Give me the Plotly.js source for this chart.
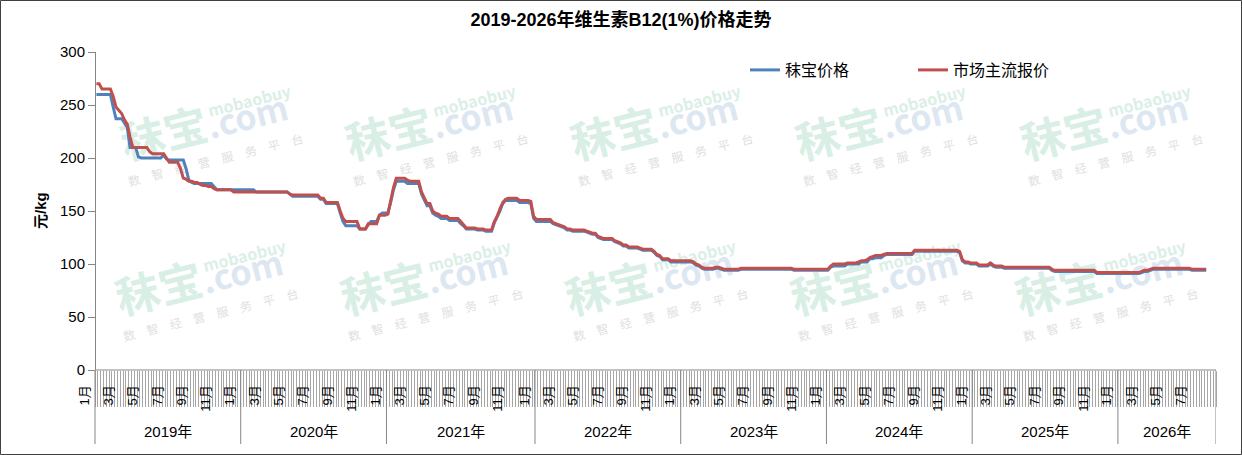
<!DOCTYPE html>
<html><head><meta charset="utf-8">
<script src="https://cdn.plot.ly/plotly-3.0.1.min.js"></script>
<style>html,body{margin:0;padding:0;background:#fff}#chart{width:1242px;height:455px}</style>
</head><body><div id="chart"></div>
<script>
// ---------------- data ----------------
const years = ['2019年','2020年','2021年','2022年','2023年','2024年','2025年','2026年'];
const weeksPerYear = [52,52,53,52,52,52,52,35];
const monthNumbers = [1,3,5,7,9,11];
const monthLabels = ['1月','3月','5月','7月','9月','11月'];
const seriesNames = ['秣宝价格','市场主流报价'];

// 秣宝价格 (weekly, 元/kg)
const mobaoPrice = [
  // 2019
  260,260,260,260,260,260,248,237,237,237,
  233,229,210,210,210,201,200,200,200,200,
  200,200,200,200,203,199,198,198,198,198,
  198,198,190,179,177,176,176,176,176,176,
  176,176,173,170,170,170,170,170,170,170,
  170,170,
  // 2020
  170,170,170,170,170,168,168,168,168,168,
  168,168,168,168,168,168,168,166,164,164,
  164,164,164,164,164,164,164,164,161,161,
  157,157,157,157,157,148,140,136,136,136,
  136,136,133,133,133,137,140,140,140,146,
  148,148,
  // 2021
  148,158,170,178,178,178,178,176,176,176,
  176,176,166,160,155,155,148,146,145,143,
  143,143,141,141,141,141,138,136,133,133,
  133,133,132,132,132,131,131,131,139,144,
  150,157,160,160,160,160,160,158,158,158,
  158,157,143,
  // 2022
  140,140,140,140,140,140,138,137,136,135,
  134,132,132,131,131,131,131,131,130,129,
  128,128,125,124,123,123,123,123,121,120,
  119,117,117,115,115,115,115,114,113,113,
  113,113,111,108,107,104,104,104,102,102,
  102,102,
  // 2023
  102,102,102,102,101,99,98,96,95,95,
  95,95,96,96,95,94,94,94,94,94,
  94,95,95,95,95,95,95,95,95,95,
  95,95,95,95,95,95,95,95,95,95,
  94,94,94,94,94,94,94,94,94,94,
  94,94,
  // 2024
  94,97,98,98,98,98,98,100,100,100,
  100,100,102,102,102,105,105,106,106,106,
  108,109,109,109,109,109,109,109,109,109,
  109,112,112,112,112,112,112,112,112,112,
  112,112,112,112,112,112,112,111,103,101,
  101,100,
  // 2025
  100,100,98,98,98,98,100,98,97,97,
  97,96,96,96,96,96,96,96,96,96,
  96,96,96,96,96,96,96,96,94,93,
  93,93,93,93,93,93,93,93,93,93,
  93,93,93,93,91,91,91,91,91,91,
  91,91,
  // 2026
  91,91,91,91,91,91,91,91,92,93,
  93,94,95,95,95,95,95,95,95,95,
  95,95,95,95,95,95,94,94,94,94,
  94,94
];

// 市场主流报价 (weekly, 元/kg)
const marketPrice = [
  // 2019
  270,270,265,265,265,265,258,248,245,242,
  236,232,220,210,210,210,210,210,210,206,
  204,204,204,204,204,200,196,196,196,196,
  190,181,180,178,178,177,177,175,174,174,
  173,173,171,170,170,170,170,170,170,168,
  168,168,
  // 2020
  168,168,168,168,168,168,168,168,168,168,
  168,168,168,168,168,168,168,166,165,165,
  165,165,165,165,165,165,165,165,162,162,
  158,158,158,158,158,150,143,140,140,140,
  140,140,133,133,133,138,138,138,138,146,
  146,146,
  // 2021
  147,160,172,181,181,181,181,179,178,178,
  178,178,168,162,157,157,150,148,147,145,
  145,145,143,143,143,143,140,137,134,134,
  134,134,133,133,133,132,132,132,140,145,
  152,158,161,162,162,162,162,160,160,160,
  160,159,145,
  // 2022
  142,142,142,142,142,142,139,138,137,136,
  135,133,133,132,132,132,132,132,131,130,
  129,129,126,125,124,124,124,124,122,121,
  120,118,118,116,116,116,116,115,114,114,
  114,114,112,109,108,105,105,105,103,103,
  103,103,
  // 2023
  103,103,103,103,102,100,99,97,96,96,
  96,96,97,97,96,95,95,95,95,95,
  95,96,96,96,96,96,96,96,96,96,
  96,96,96,96,96,96,96,96,96,96,
  95,95,95,95,95,95,95,95,95,95,
  95,95,
  // 2024
  95,98,100,100,100,100,100,101,101,101,
  101,102,103,103,104,106,107,108,108,108,
  109,110,110,110,110,110,110,110,110,110,
  110,113,113,113,113,113,113,113,113,113,
  113,113,113,113,113,113,113,112,104,102,
  102,101,
  // 2025
  101,101,99,99,99,99,101,99,98,98,
  98,97,97,97,97,97,97,97,97,97,
  97,97,97,97,97,97,97,97,95,94,
  94,94,94,94,94,94,94,94,94,94,
  94,94,94,94,92,92,92,92,92,92,
  92,92,
  // 2026
  92,92,92,92,92,92,92,92,93,94,
  94,95,96,96,96,96,96,96,96,96,
  96,96,96,96,96,96,95,95,95,95,
  95,95
];

// ---------------- layout helpers ----------------
const W = 1242, H = 455, PL = 95, PR = 1216, PT = 52, PB = 370;
const PW = PR;               // paper starts at pixel 0 (left margin 0)
const PHt = PB - PT;
const px2x = px => px / PW;
const py2y = py => (PB - py) / PHt;
const FONT = '"Liberation Sans", Arial, "Noto Sans CJK SC", sans-serif';
const CJK = '"Noto Sans CJK SC", "Liberation Sans", sans-serif';

const N = weeksPerYear.reduce((a, b) => a + b, 0);
const pxPerIdx = (PR - PL) / N;
const LBL_L = 60;
const xRange = [-0.5 - (PL - LBL_L) / pxPerIdx, N - 0.5];
const idx = Array.from({length: N}, (_, i) => i);
const pad = arr => arr.concat(Array(Math.max(0, N - arr.length)).fill(null));
const lastData = marketPrice.length - 1;

const yearStart = [];
weeksPerYear.reduce((acc, w) => { yearStart.push(acc); return acc + w; }, 0);

const WEEKS_FULL = 52.18, LABEL_SHIFT = 4.3;
const tickvals = [], ticktext = [];
years.forEach((y, k) => {
  monthNumbers.forEach((m, j) => {
    const start = yearStart[k] + (m - 1) / 12 * WEEKS_FULL;
    if (start <= lastData) { tickvals.push(start - LABEL_SHIFT); ticktext.push(monthLabels[j]); }
  });
});
const boundaries = Array.from({length: N + 1}, (_, i) => i - 0.5);

const shapes = [];
const annotations = [];

// x axis line
shapes.push({type: 'line', xref: 'x', yref: 'paper', x0: -0.5, x1: N - 0.5, y0: 0, y1: 0,
  line: {color: '#868686', width: 1}});
// year separators
for (let k = 0; k <= years.length; k++) {
  const xb = (k < years.length ? yearStart[k] : N) - 0.5;
  shapes.push({type: 'line', xref: 'x', yref: 'paper', x0: xb, x1: xb, y0: 0, y1: py2y(444),
    line: {color: '#868686', width: 1}});
}
// year labels
years.forEach((y, k) => {
  annotations.push({xref: 'x', yref: 'paper', x: yearStart[k] + weeksPerYear[k] / 2 - 0.5, y: py2y(431),
    text: y, showarrow: false, xanchor: 'center', yanchor: 'middle', font: {size: 15, color: '#000', family: FONT}});
});
// y-axis title
annotations.push({xref: 'paper', yref: 'paper', x: px2x(40), y: 0.5, text: '<b>元/kg</b>', textangle: -90,
  showarrow: false, xanchor: 'center', yanchor: 'middle', font: {size: 15, color: '#000', family: FONT}});

// chart border
shapes.push({type: 'rect', xref: 'paper', yref: 'paper', x0: px2x(0.5), x1: px2x(W - 0.5), y0: py2y(H - 0.5), y1: py2y(0.5),
  line: {color: '#404040', width: 1}, fillcolor: 'rgba(0,0,0,0)'});

// watermarks (drawn below the lines)
const wmRows = [128, 283];
const wmCols = [[205, 430, 655, 880, 1105], [200, 425, 650, 875, 1100]];
const WM_ANGLE = -14;
function wmLabel(cx, cy, text, size, color) {
  shapes.push({type: 'rect', xref: 'paper', yref: 'paper', x0: px2x(cx - 1), x1: px2x(cx + 1), y0: py2y(cy + 1), y1: py2y(cy - 1),
    line: {width: 0}, fillcolor: 'rgba(0,0,0,0)', layer: 'below',
    label: {text: text, textposition: 'middle center', textangle: WM_ANGLE, font: {size: size, color: color, family: CJK}}});
}
wmRows.forEach((cy, r) => {
  wmCols[r].forEach(cx => {
    wmLabel(cx, cy, '<b>秣宝<span style="font-size:34px;fill:#dde7f1">.com</span></b>', 44, '#d9efe6');
    wmLabel(cx + 45, cy - 25, '<b>mobaobuy</b>', 16, '#dbefe7');
    wmLabel(cx + 11, cy + 33, '数　智　经　营　服　务　平　台', 12, '#e0e0e0');
  });
});

const traces = [
  {x: idx, y: pad(mobaoPrice), type: 'scatter', mode: 'lines', name: seriesNames[0],
   line: {color: '#4F81BD', width: 3}, hoverinfo: 'skip'},
  {x: idx, y: pad(marketPrice), type: 'scatter', mode: 'lines', name: seriesNames[1],
   line: {color: '#C0504D', width: 3}, hoverinfo: 'skip'}
];

const layout = {
  width: W, height: H,
  margin: {l: 0, r: W - PR, t: PT, b: H - PB, pad: 0},
  paper_bgcolor: '#ffffff', plot_bgcolor: 'rgba(0,0,0,0)',
  font: {family: FONT, size: 15, color: '#000'},
  title: {text: '<b>2019-2026年维生素B12(1%)价格走势</b>', x: 0.5, xref: 'container', xanchor: 'center',
          y: 1 - 20 / H, yref: 'container', yanchor: 'middle', font: {size: 18, color: '#000', family: FONT}},
  showlegend: true,
  legend: {orientation: 'h', x: px2x(745), xanchor: 'left', y: py2y(70), yanchor: 'middle',
           font: {size: 16, color: '#000', family: FONT}, entrywidth: 123, entrywidthmode: 'pixels',
           bgcolor: 'rgba(0,0,0,0)', borderwidth: 0, traceorder: 'normal'},
  xaxis: {domain: [px2x(LBL_L), 1], range: xRange, showgrid: false, zeroline: false, showline: false,
          tickmode: 'array', tickvals: tickvals, ticktext: ticktext, tickangle: -90,
          ticks: 'outside', ticklen: 9, tickcolor: 'rgba(0,0,0,0)', tickfont: {size: 13, color: '#000', family: FONT},
          minor: {tickmode: 'array', tickvals: boundaries, ticks: 'outside', ticklen: 36, tickcolor: '#a6a6a6', tickwidth: 1, showgrid: false},
          fixedrange: true, automargin: false},
  yaxis: {anchor: 'free', position: px2x(PL), domain: [0, 1], range: [0, 300], tickmode: 'linear', tick0: 0, dtick: 50,
          showgrid: false, zeroline: false, showline: true, linecolor: '#868686', linewidth: 1,
          ticks: 'outside', ticklen: 7, tickcolor: '#868686', tickfont: {size: 15, color: '#000', family: FONT},
          fixedrange: true, automargin: false},
  shapes: shapes,
  annotations: annotations
};

Plotly.newPlot('chart', traces, layout, {displayModeBar: false, staticPlot: true});
</script>
</body></html>
